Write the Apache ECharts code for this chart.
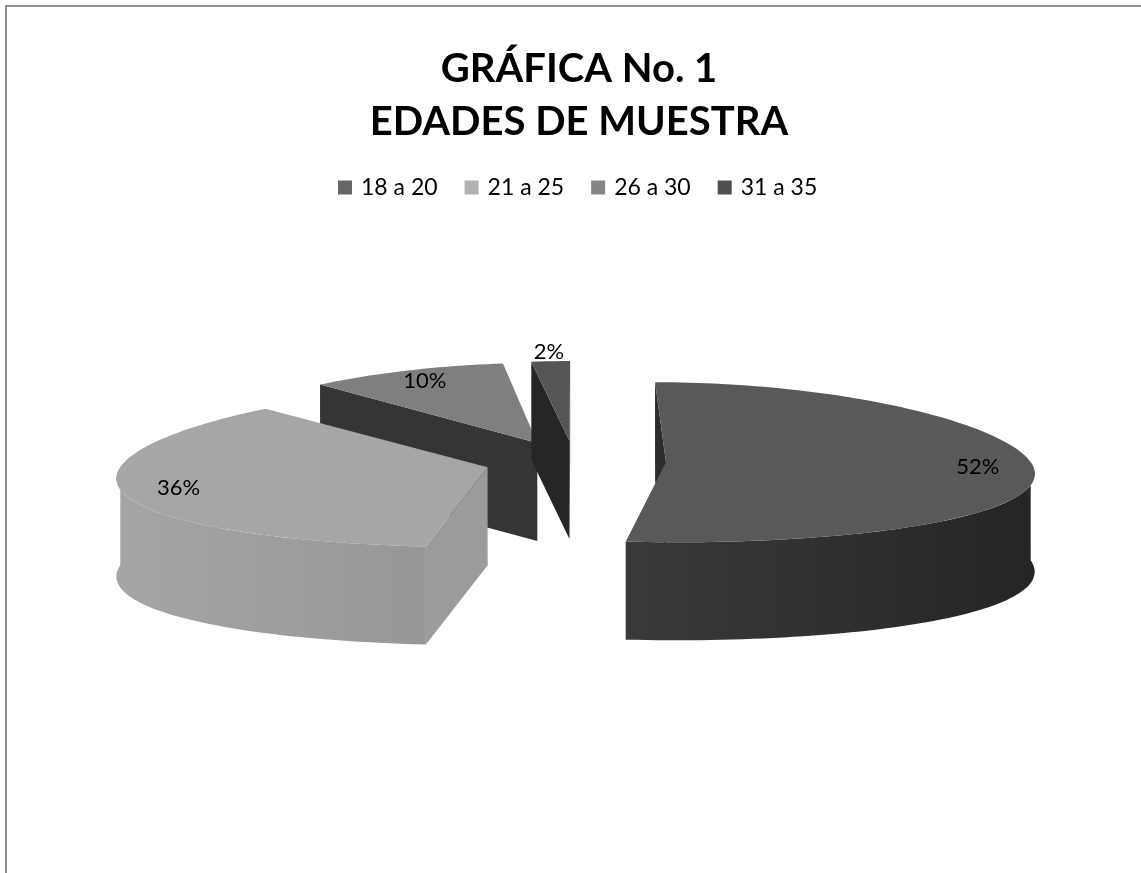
<!DOCTYPE html>
<html>
<head>
<meta charset="utf-8">
<title>GRÁFICA No. 1</title>
<script src="https://cdn.jsdelivr.net/npm/echarts@6/dist/echarts.min.js"></script>
<style>
  html, body { margin: 0; padding: 0; background: #fff; }
  #chart { width: 1141px; height: 873px; }
</style>
</head>
<body>
<div id="chart"></div>
<script>
  // datos
  const categories = ['18 a 20', '21 a 25', '26 a 30', '31 a 35']
  const values = [52, 36, 10, 2]

  // colores (leyenda, cara superior, pared exterior, corte)
  const legendColors = ['#666666', '#b2b2b2', '#858585', '#4f4f4f']
  const topColors = ['#595959', '#a6a6a6', '#7f7f7f', '#555555']
  const wallColors = [['#3a3a3a', '#252525'], ['#a5a5a5', '#979797'], ['#333333', '#2a2a2a'], ['#2a2a2a', '#222222']]
  const cutColors = ['#2d2d2d', '#9b9b9b', '#353535', '#262626']
  const drawZ = [5, 4, 2, 3]

  // geometria del pastel 3D
  const W = 1141, H = 873
  const CX = 575, CY = 461
  const RX = 364, RY = 80
  const DEPTH = 98
  const EXPLODE = 0.25
  const PERSP = 0.12
  const FONT = 'Lato, "Open Sans", sans-serif'

  const total = values.reduce((a, b) => a + b, 0)
  const starts = []
  values.reduce((acc, v, i) => { starts[i] = acc; return acc + v }, 0)

  function proj(api, u, v, drop) {
    const s = 1 - PERSP * v
    const p = api.coord([u * s, v])
    return [p[0], p[1] + (drop || 0)]
  }

  function area(pts) {
    let a = 0
    for (let i = 0; i < pts.length; i++) {
      const p = pts[i], q = pts[(i + 1) % pts.length]
      a += p[0] * q[1] - q[0] * p[1]
    }
    return a
  }

  function renderSlice(params, api) {
    const i = api.value(0)
    const val = api.value(1)
    const a0 = starts[i] / total * Math.PI * 2
    const a1 = (starts[i] + val) / total * Math.PI * 2
    const mid = (a0 + a1) / 2
    const ex = EXPLODE * Math.sin(mid)
    const ey = EXPLODE * Math.cos(mid)
    const rim = (t, drop) => proj(api, ex + Math.sin(t), ey + Math.cos(t), drop)
    const arc = (t0, t1, drop) => {
      const n = Math.max(2, Math.ceil((t1 - t0) / (Math.PI / 120)))
      const pts = []
      for (let k = 0; k <= n; k++) pts.push(rim(t0 + (t1 - t0) * k / n, drop))
      return pts
    }
    const apexTop = proj(api, ex, ey, 0)
    const apexBot = proj(api, ex, ey, DEPTH)
    const children = []

    // caras de corte
    const cut = (t, sign) => {
      const quad = [apexTop, rim(t, 0), rim(t, DEPTH), apexBot]
      if (area(quad) * sign > 0) {
        children.push({type: 'polygon', shape: {points: quad}, style: {fill: cutColors[i]}})
      }
    }
    cut(a0, -1)
    cut(a1, 1)

    // pared exterior (solo la mitad frontal)
    const t0 = Math.max(a0, Math.PI / 2)
    const t1 = Math.min(a1, Math.PI * 1.5)
    if (t1 > t0) {
      const pts = arc(t0, t1, 0).concat(arc(t0, t1, DEPTH).reverse())
      children.push({
        type: 'polygon',
        shape: {points: pts},
        style: {
          fill: new echarts.graphic.LinearGradient(0, 0, 1, 0, [
            {offset: 0, color: wallColors[i][0]},
            {offset: 1, color: wallColors[i][1]}
          ])
        }
      })
    }

    // cara superior
    children.push({
      type: 'polygon',
      shape: {points: [apexTop].concat(arc(a0, a1, 0))},
      style: {fill: topColors[i]}
    })

    // etiqueta
    const lr = val / total < 0.05 ? 1.12 : 0.85
    const lp = proj(api, ex + lr * Math.sin(mid), ey + lr * Math.cos(mid), 0)
    children.push({
      type: 'text',
      x: lp[0],
      y: lp[1],
      style: {
        text: Math.round(val / total * 100) + '%',
        fill: '#000',
        fontSize: 22,
        fontFamily: FONT,
        align: 'center',
        verticalAlign: 'middle'
      }
    })
    return {type: 'group', children}
  }

  const chart = echarts.init(document.getElementById('chart'), null, {renderer: 'canvas'})
  chart.setOption({
    backgroundColor: '#fff',
    animation: false,
    title: {
      text: 'GRÁFICA No. 1\nEDADES DE MUESTRA',
      left: 574,
      textAlign: 'center',
      top: 38,
      textStyle: {
        fontFamily: FONT,
        fontWeight: 'bold',
        fontSize: 40,
        lineHeight: 53,
        color: '#000'
      }
    },
    legend: {
      left: 333,
      top: 171,
      icon: 'rect',
      itemWidth: 14,
      itemHeight: 14,
      itemGap: 27,
      data: categories,
      textStyle: {
        fontFamily: FONT,
        fontSize: 23,
        color: '#000',
        padding: [0, 0, 0, 4]
      }
    },
    grid: {left: 0, right: 0, top: 0, bottom: 0},
    xAxis: {type: 'value', min: -CX / RX, max: (W - CX) / RX, show: false},
    yAxis: {type: 'value', min: -(H - CY) / RY, max: CY / RY, show: false},
    graphic: [{
      type: 'rect',
      shape: {x: 6, y: 6, width: 1170, height: 900},
      style: {fill: 'none', stroke: '#8f8f8f', lineWidth: 2},
      silent: true
    }],
    series: categories.map((name, i) => ({
      name,
      type: 'custom',
      coordinateSystem: 'cartesian2d',
      z: drawZ[i],
      itemStyle: {color: legendColors[i]},
      data: [[i, values[i]]],
      renderItem: renderSlice
    }))
  })
</script>
</body>
</html>
